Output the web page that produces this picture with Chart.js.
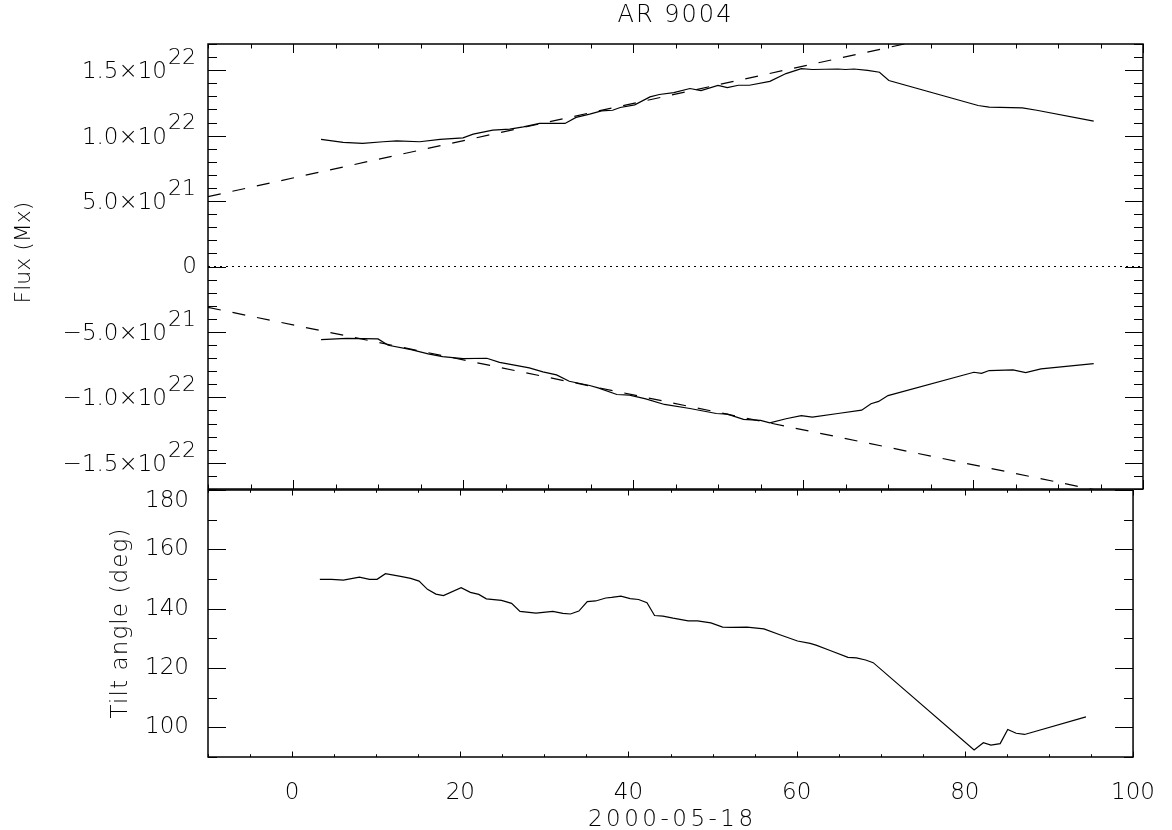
<!DOCTYPE html>
<html>
<head>
<meta charset="utf-8">
<script src="https://cdn.jsdelivr.net/npm/chart.js@4.4.1/dist/chart.umd.min.js"></script>
<style>
  html, body { margin: 0; background: #fff; }
  #wrap { position: relative; width: 1172px; height: 830px; }
  #wrap canvas { position: absolute; left: 0; top: 0; }
</style>
</head>
<body>
<div id="wrap">
  <canvas id="fluxChart" width="1172" height="830"></canvas>
  <canvas id="tiltChart" width="1172" height="830"></canvas>
</div>
<script>
// --- data (time in days from 2000-05-18, flux in units of 1e22 Mx) ---
const FLUX_UNIT = 1e22;
const timeRange = [-10, 100];
const timeTicks = [0, 20, 40, 60, 80, 100];
const fluxRange = [-1.7, 1.7];
const fluxTicks = [-1.5, -1.0, -0.5, 0, 0.5, 1.0, 1.5];
const tiltRange = [90, 180];
const tiltTicks = [100, 120, 140, 160, 180];

const posTime = [3.3, 5.9, 8.2, 10.6, 12.2, 14.9, 17.3, 20.0, 21.2, 23.5, 25.5, 27.1, 29.0, 32.0, 33.3, 34.9, 36.3, 37.6, 38.5, 40.2, 42.0, 43.1, 44.8, 46.7, 48.0, 50.0, 51.1, 52.4, 53.7, 56.1, 58.0, 59.8, 61.1, 64.1, 65.0, 66.0, 67.6, 69.0, 70.1, 80.6, 81.9, 85.8, 87.5, 94.2];
const posFlux = [0.971, 0.948, 0.940, 0.953, 0.960, 0.953, 0.971, 0.983, 1.011, 1.042, 1.050, 1.067, 1.093, 1.093, 1.139, 1.164, 1.189, 1.194, 1.215, 1.235, 1.296, 1.314, 1.329, 1.360, 1.344, 1.383, 1.367, 1.385, 1.385, 1.415, 1.474, 1.512, 1.505, 1.509, 1.505, 1.509, 1.499, 1.484, 1.421, 1.230, 1.217, 1.212, 1.194, 1.111];

const negTime = [3.3, 6.3, 10.0, 11.2, 13.9, 15.9, 17.6, 20.0, 22.8, 24.3, 27.8, 29.4, 31.0, 32.5, 34.9, 35.9, 38.1, 39.6, 41.5, 43.7, 46.7, 49.8, 51.1, 53.0, 55.0, 56.1, 58.0, 59.8, 61.1, 64.1, 66.9, 68.0, 68.9, 70.0, 80.1, 81.0, 81.9, 84.7, 86.2, 88.0, 94.2];
const negFlux = [-0.559, -0.549, -0.553, -0.602, -0.635, -0.668, -0.688, -0.704, -0.701, -0.732, -0.775, -0.805, -0.828, -0.877, -0.909, -0.927, -0.978, -0.983, -1.011, -1.054, -1.085, -1.123, -1.128, -1.168, -1.176, -1.194, -1.163, -1.140, -1.151, -1.123, -1.098, -1.049, -1.031, -0.986, -0.808, -0.816, -0.795, -0.790, -0.810, -0.782, -0.742];

// linear fits (dashed), evaluated at the ends of the time range
const fitTime = [-10, 100];
const posFit = [0.534, 2.100];
const negFit = [-0.3125, -1.782];
const zeroLevel = [0, 0];

const tiltTime = [3.3, 4.7, 6.1, 8.0, 9.2, 10.1, 11.1, 12.9, 14.1, 15.1, 16.1, 17.1, 18.0, 20.1, 21.2, 22.2, 23.1, 24.9, 26.1, 27.1, 29.0, 31.0, 32.2, 33.1, 34.1, 35.1, 36.1, 37.3, 38.0, 39.1, 40.2, 41.2, 42.2, 43.1, 44.1, 45.3, 47.1, 48.2, 49.8, 51.2, 52.2, 54.1, 56.1, 58.0, 60.1, 61.6, 62.3, 63.9, 66.1, 67.1, 68.2, 69.1, 81.1, 82.2, 83.1, 84.2, 85.1, 86.1, 87.1, 94.4];
const tiltAngle = [149.9, 149.9, 149.6, 150.6, 149.9, 149.9, 151.8, 150.9, 150.2, 149.3, 146.5, 144.9, 144.4, 147.1, 145.5, 144.8, 143.3, 142.8, 141.8, 139.1, 138.5, 139.1, 138.4, 138.2, 139.2, 142.4, 142.6, 143.6, 143.8, 144.2, 143.4, 143.1, 142.0, 137.7, 137.5, 136.8, 135.9, 135.9, 135.2, 133.8, 133.7, 133.8, 133.2, 131.2, 129.1, 128.3, 127.7, 126.0, 123.6, 123.4, 122.7, 121.8, 92.4, 94.8, 94.0, 94.5, 99.3, 98.0, 97.6, 103.5];

// --- look ---
const FAMILY = "'DejaVu Sans', sans-serif";
const TEXT = '#000';
const font = (size) => `200 ${size}px ${FAMILY}`;
Chart.defaults.font.family = FAMILY;
Chart.defaults.font.size = 23;
Chart.defaults.font.weight = '200';
Chart.defaults.color = TEXT;

const pts = (xs, ys) => xs.map((x, i) => ({ x, y: ys[i] }));
const line = (data, dash) => ({
    data,
    borderColor: '#000',
    borderWidth: 1.2,
    borderDash: dash || [],
    pointRadius: 0,
    fill: false,
    tension: 0
});
const setTicks = list => scale => { scale.ticks = list.map(v => ({ value: v })); };

// rotated (left) or plain (bottom) axis title, spaced out like the Hershey font
function axisTitle(ctx, text, x, y, rotated, size, spacing) {
    ctx.save();
    ctx.fillStyle = TEXT;
    ctx.font = font(size);
    ctx.letterSpacing = spacing + 'px';
    ctx.textAlign = 'center';
    ctx.textBaseline = 'alphabetic';
    ctx.translate(x, y);
    if (rotated) ctx.rotate(-Math.PI / 2);
    ctx.fillText(text, spacing / 2, 0);
    ctx.restore();
}

// IDL style box with inward ticks on all four sides
const framePlugin = {
    id: 'frame',
    beforeDraw(chart, args, o) {
        chart.ctx.letterSpacing = o.spacing || '0px';
    },
    afterDatasetsDraw(chart, args, o) {
        const { ctx, chartArea: a, scales: { x, y } } = chart;
        const marks = (scale, minor) => {
            const majors = scale.ticks.map(t => t.value);
            const out = majors.map(v => ({ v, major: true }));
            for (let i = Math.ceil(scale.min / minor); i <= Math.floor(scale.max / minor + 1e-9); i++) {
                const v = i * minor;
                if (!majors.some(m => Math.abs(m - v) < minor / 100)) out.push({ v, major: false });
            }
            return out;
        };
        ctx.save();
        ctx.strokeStyle = '#000';
        ctx.lineWidth = 1;
        ctx.beginPath();
        marks(x, o.xMinor).forEach(({ v, major }) => {
            const px = Math.round(x.getPixelForValue(v)) + 0.5;
            const len = major ? o.xLen : o.xLen / 2;
            ctx.moveTo(px, a.bottom); ctx.lineTo(px, a.bottom - len);
            ctx.moveTo(px, a.top); ctx.lineTo(px, a.top + len);
        });
        marks(y, o.yMinor).forEach(({ v, major }) => {
            const py = Math.round(y.getPixelForValue(v)) + 0.5;
            const len = major ? o.yLen : o.yLen / 2;
            ctx.moveTo(a.left, py); ctx.lineTo(a.left + len, py);
            ctx.moveTo(a.right, py); ctx.lineTo(a.right - len, py);
        });
        ctx.stroke();
        ctx.lineWidth = 1.5;
        ctx.strokeRect(a.left, a.top, a.right - a.left, a.bottom - a.top);
        ctx.restore();
    }
};

// flux tick labels with raised exponents, plus the rotated axis title
const fluxLabelPlugin = {
    id: 'fluxLabels',
    afterDraw(chart) {
        const { ctx, chartArea: a, scales: { y } } = chart;
        const xr = a.left - 12;
        ctx.save();
        ctx.letterSpacing = '0px';
        ctx.fillStyle = TEXT;
        ctx.textAlign = 'right';
        ctx.textBaseline = 'middle';
        y.ticks.forEach(({ value }) => {
            const py = y.getPixelForValue(value);
            if (value === 0) {
                ctx.font = font(23);
                ctx.fillText('0', xr + 1, py + 1);
                return;
            }
            const val = value * FLUX_UNIT;
            const exp = Math.floor(Math.log10(Math.abs(val)) + 1e-9);
            const man = (Math.abs(val) / Math.pow(10, exp)).toFixed(1);
            ctx.font = font(22);
            ctx.fillText(String(exp), xr, py - 12);
            const w = ctx.measureText(String(exp)).width;
            ctx.font = font(23);
            ctx.fillText((val < 0 ? '\u2212' : '') + man + '\u00d710', xr - w - 1, py + 2);
        });
        ctx.restore();
        axisTitle(ctx, 'Flux (Mx)', 30, (a.top + a.bottom) / 2 - 14, true, 22, 0);
    }
};

const tiltTitlePlugin = {
    id: 'tiltTitles',
    afterDraw(chart) {
        const { ctx, chartArea: a } = chart;
        axisTitle(ctx, 'Tilt angle (deg)', 127, (a.top + a.bottom) / 2, true, 23, 1.1);
        axisTitle(ctx, '2000-05-18', (a.left + a.right) / 2, 826, false, 23, 3.5);
    }
};

const baseOptions = {
    responsive: false,
    animation: false,
    events: []
};

new Chart(document.getElementById('fluxChart'), {
    type: 'line',
    data: {
        datasets: [
            line(pts(posTime, posFlux)),
            line(pts(negTime, negFlux)),
            line(pts(fitTime, posFit), [13, 12]),
            line(pts(fitTime, negFit), [13, 12]),
            Object.assign(line(pts(fitTime, zeroLevel), [2, 4]), { borderWidth: 1 })
        ]
    },
    options: {
        ...baseOptions,
        layout: { padding: { top: 0, right: 29, bottom: 0, left: 0 } },
        plugins: {
            legend: { display: false },
            tooltip: { enabled: false },
            title: {
                display: true,
                text: 'AR 9004',
                fullSize: false,
                color: TEXT,
                font: { size: 24, weight: '200', lineHeight: 1 },
                padding: { top: 4, bottom: 16 }
            },
            frame: { xLen: 9, yLen: 18, xMinor: 5, yMinor: 0.1, spacing: '2px' }
        },
        scales: {
            x: {
                type: 'linear',
                min: timeRange[0], max: timeRange[1],
                afterBuildTicks: setTicks(timeTicks),
                ticks: { display: false },
                grid: { display: false },
                border: { display: false },
                afterFit: s => { s.height = 341; }
            },
            y: {
                min: fluxRange[0], max: fluxRange[1],
                afterBuildTicks: setTicks(fluxTicks),
                ticks: { display: false },
                grid: { display: false },
                border: { display: false },
                afterFit: s => { s.width = 208; }
            }
        }
    },
    plugins: [framePlugin, fluxLabelPlugin]
});

new Chart(document.getElementById('tiltChart'), {
    type: 'line',
    data: {
        datasets: [line(pts(tiltTime, tiltAngle))]
    },
    options: {
        ...baseOptions,
        layout: { padding: { top: 490, right: 29, bottom: 0, left: 0 } },
        plugins: {
            legend: { display: false },
            tooltip: { enabled: false },
            frame: { xLen: 5.5, yLen: 18, xMinor: 5, yMinor: 10 }
        },
        scales: {
            x: {
                type: 'linear',
                min: timeRange[0], max: timeRange[1],
                afterBuildTicks: setTicks(timeTicks),
                ticks: { padding: 17, maxRotation: 0, autoSkip: false, font: { size: 23, lineHeight: 1 } },
                grid: { display: false },
                border: { display: false },
                afterFit: s => { s.height = 73; }
            },
            y: {
                min: tiltRange[0], max: tiltRange[1],
                afterBuildTicks: setTicks(tiltTicks),
                ticks: {
                    padding: 11,
                    font: { size: 23, lineHeight: 1 },
                    // the top label sits below the panel boundary, as in the original
                    callback: v => v === tiltRange[1] ? ['', String(v)] : String(v)
                },
                grid: { display: false },
                border: { display: false },
                afterFit: s => { s.width = 208; }
            }
        }
    },
    plugins: [framePlugin, tiltTitlePlugin]
});
</script>
</body>
</html>
